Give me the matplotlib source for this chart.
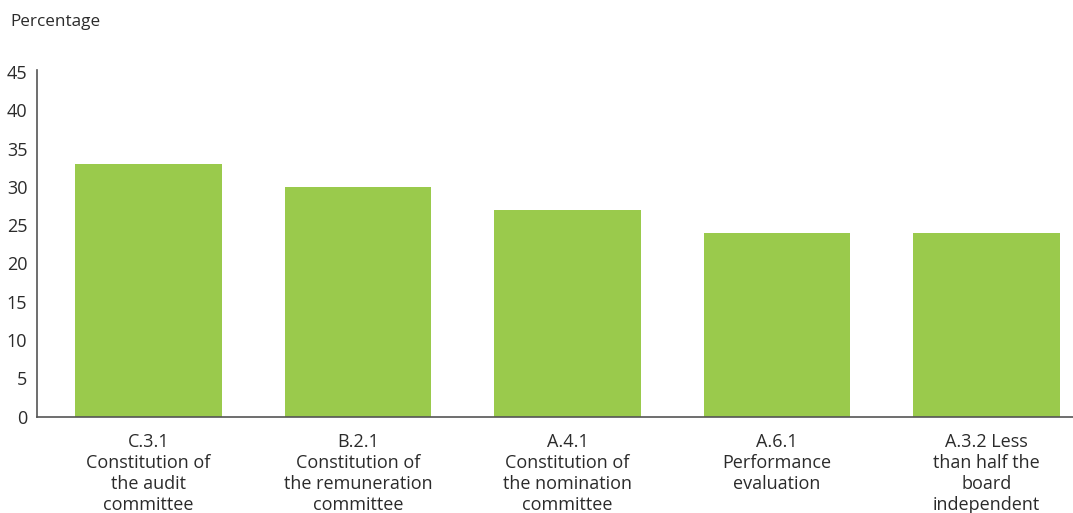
import matplotlib
matplotlib.use("Agg")
import matplotlib.pyplot as plt

categories = [
    "C.3.1\nConstitution of\nthe audit\ncommittee",
    "B.2.1\nConstitution of\nthe remuneration\ncommittee",
    "A.4.1\nConstitution of\nthe nomination\ncommittee",
    "A.6.1\nPerformance\nevaluation",
    "A.3.2 Less\nthan half the\nboard\nindependent",
]
values = [33, 30, 27, 24, 24]
yticks = [0, 5, 10, 15, 20, 25, 30, 35, 40, 45]

plt.rcParams['font.family'] = ['Open Sans', 'DejaVu Sans']
text_color = '#2b2b2b'

W, H = 1073, 513
fig = plt.figure(figsize=(W / 100, H / 100), dpi=100)
left = 37 / W
bottom = 1 - 416.5 / H
top_px = 70
ax = fig.add_axes([left, bottom, 1 - left, (416.5 - top_px) / H])

x = list(range(len(categories)))
ax.bar(x, values, width=0.70, color='#9aca4c', zorder=2)

ax.set_ylim(0, 45 * (416.5 - top_px) / (416.5 - 72))
ax.set_xlim(-0.532, 4.413)
ax.set_yticks(yticks)
ax.set_yticklabels([str(t) for t in yticks])
ax.set_xticks(x)
ax.set_xticklabels(categories, linespacing=1.22)

for s in ['top', 'right']:
    ax.spines[s].set_visible(False)
for s in ['left', 'bottom']:
    ax.spines[s].set_color('#555555')
    ax.spines[s].set_linewidth(1.2)

ax.tick_params(axis='y', length=0, pad=7, labelsize=13, labelcolor=text_color)
ax.tick_params(axis='x', length=0, pad=12, labelsize=13, labelcolor=text_color)

fig.text(10 / W, 1 - 22 / H, "Percentage", ha='left', va='center', fontsize=12.3, color=text_color)

fig.savefig("out.png", dpi=100)
